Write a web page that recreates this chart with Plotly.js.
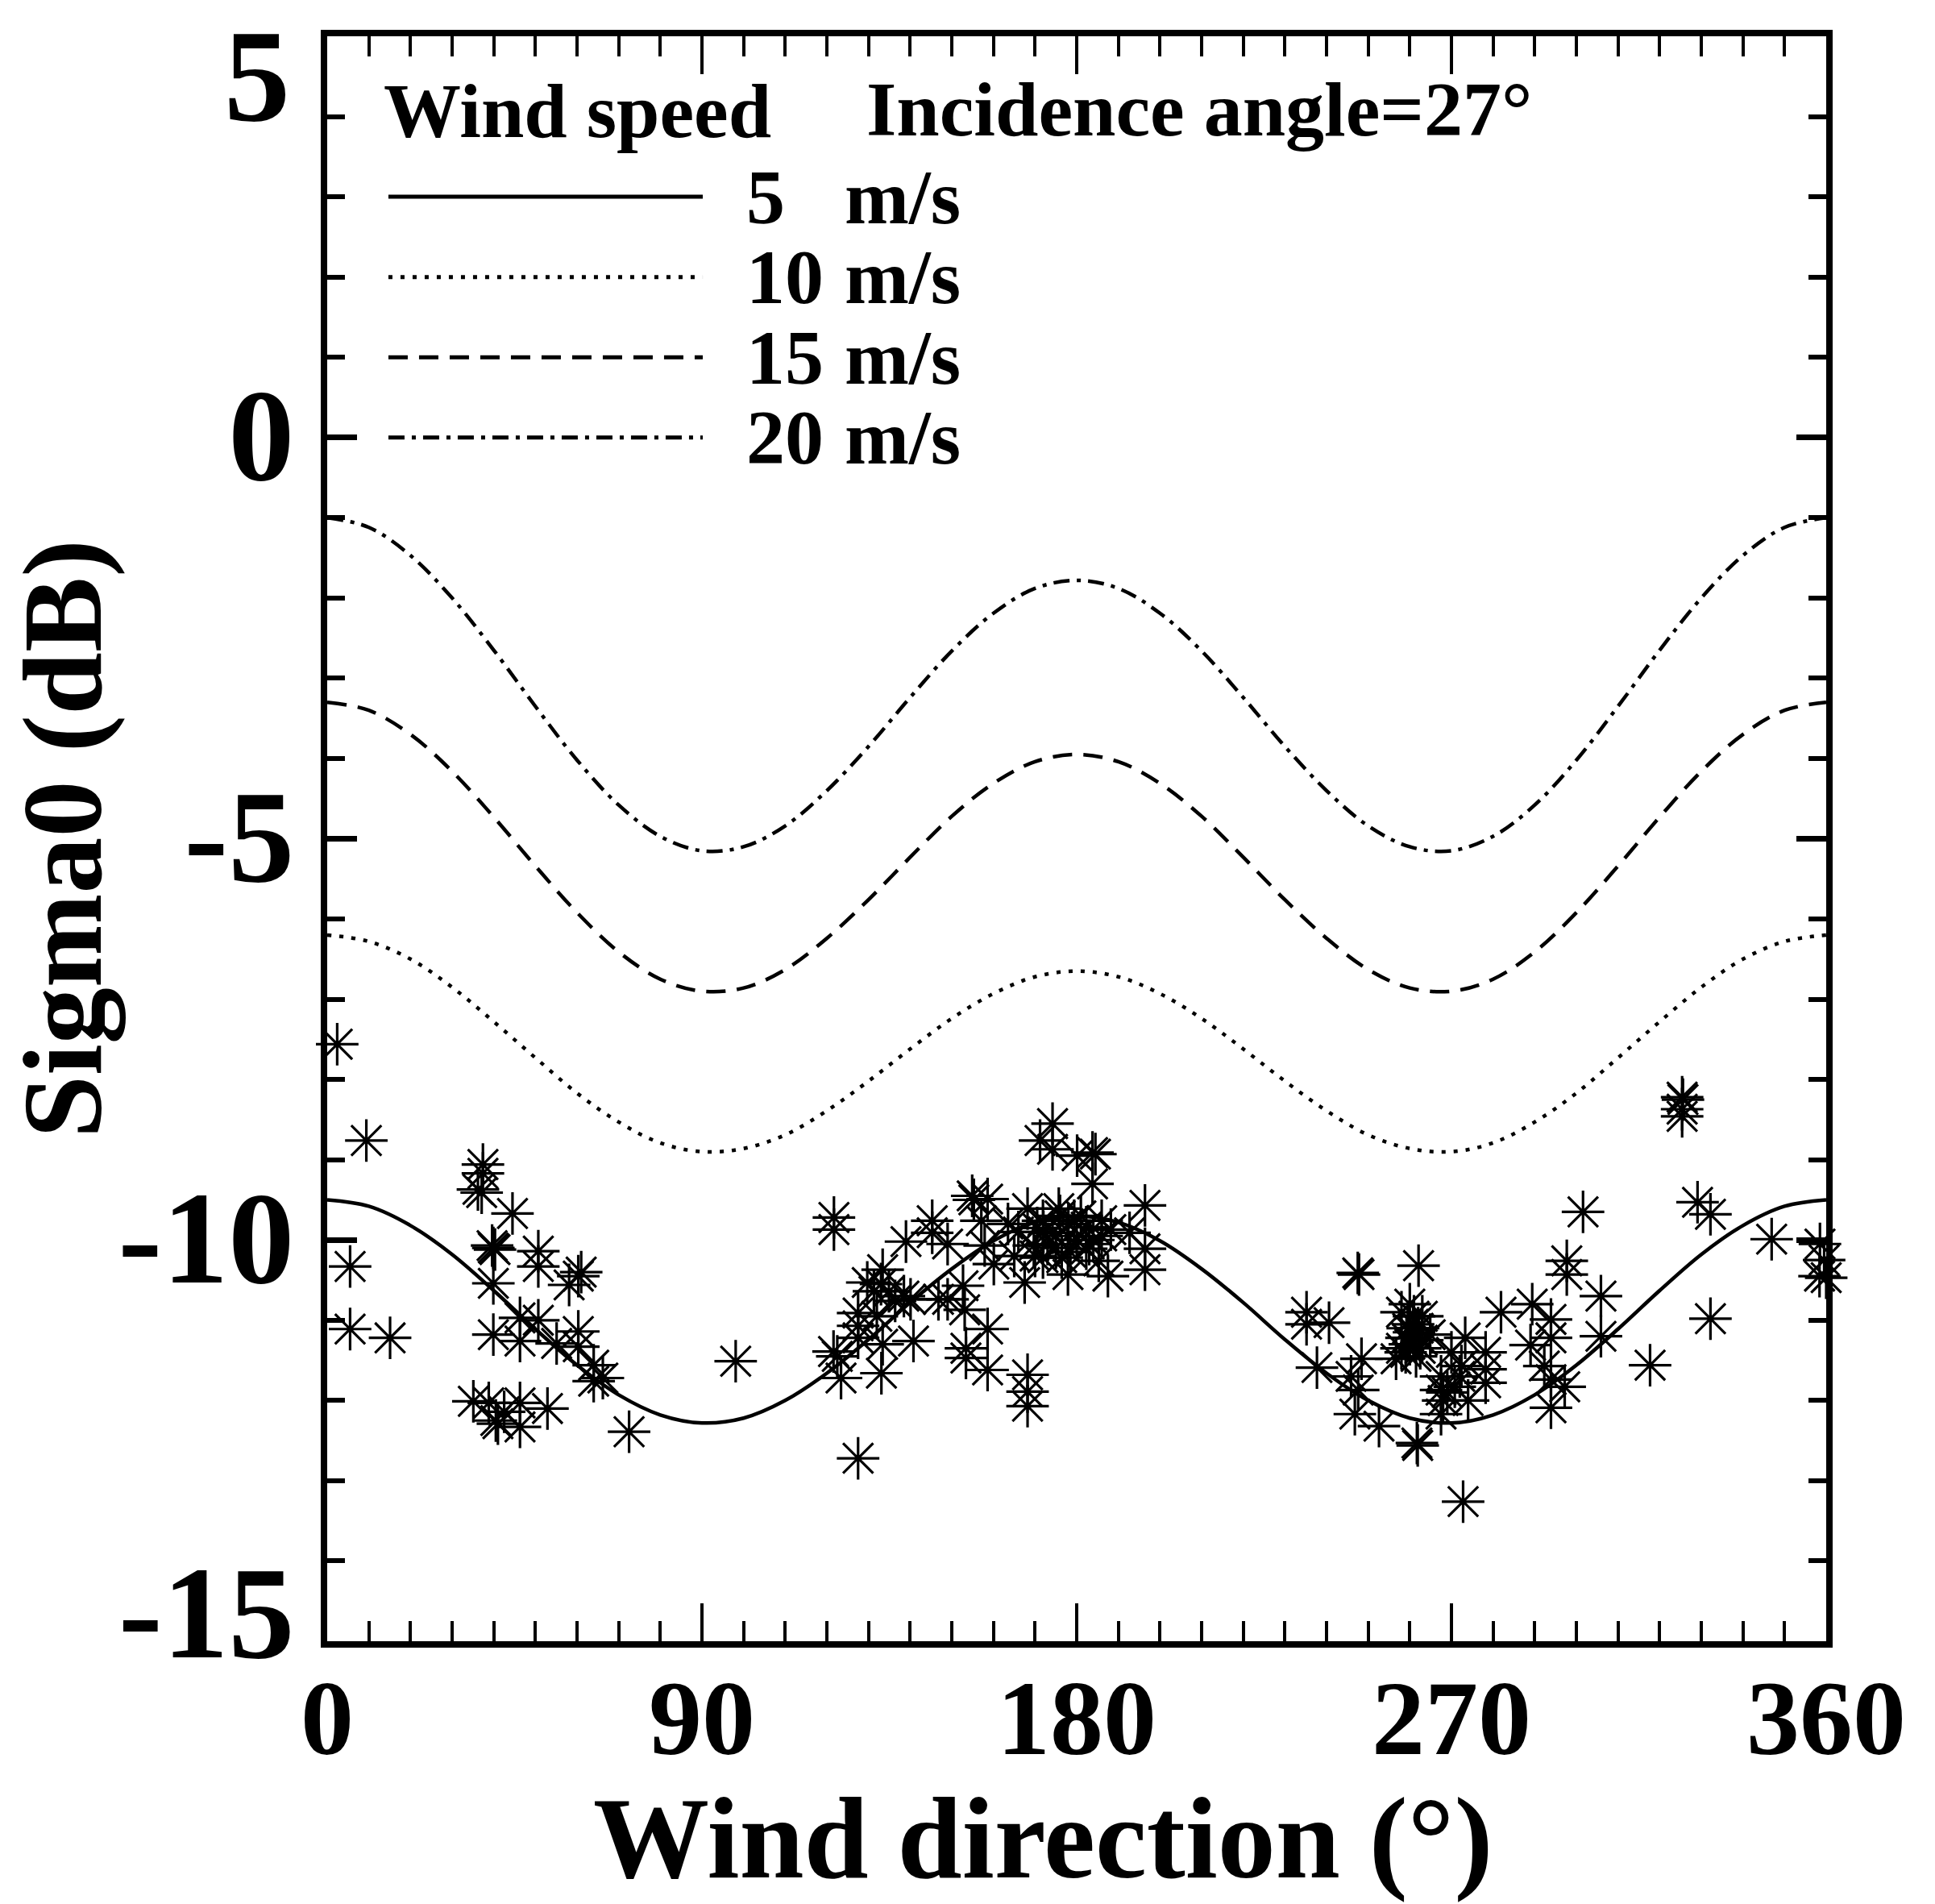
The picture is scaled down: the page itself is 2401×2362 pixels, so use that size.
<!DOCTYPE html>
<html>
<head>
<meta charset="utf-8">
<script src="https://cdn.plot.ly/plotly-3.0.1.min.js"></script>
<style>html,body{margin:0;padding:0;background:#fff;}#chart{width:2401px;height:2362px;}</style>
</head>
<body>
<div id="chart"></div>
<script>
// ---- data ----
var windDir = [0,10,20,30,40,50,60,70,80,90,100,110,120,130,140,150,160,170,180,190,200,210,220,230,240,250,260,270,280,290,300,310,320,330,340,350,360];
var sigma5 = [-9.50,-9.58,-9.82,-10.18,-10.63,-11.11,-11.56,-11.93,-12.18,-12.28,-12.22,-12.00,-11.66,-11.24,-10.78,-10.36,-10.01,-9.78,-9.70,-9.78,-10.01,-10.36,-10.78,-11.24,-11.66,-12.00,-12.22,-12.28,-12.18,-11.93,-11.56,-11.11,-10.63,-10.18,-9.82,-9.58,-9.50];
var sigma10 = [-6.20,-6.28,-6.50,-6.85,-7.28,-7.73,-8.17,-8.53,-8.79,-8.90,-8.86,-8.69,-8.39,-8.02,-7.62,-7.24,-6.93,-6.72,-6.65,-6.72,-6.93,-7.24,-7.62,-8.02,-8.39,-8.69,-8.86,-8.90,-8.79,-8.53,-8.17,-7.73,-7.28,-6.85,-6.50,-6.28,-6.20];
var sigma15 = [-3.30,-3.40,-3.70,-4.16,-4.73,-5.34,-5.92,-6.41,-6.75,-6.90,-6.86,-6.63,-6.24,-5.76,-5.23,-4.72,-4.31,-4.04,-3.95,-4.04,-4.31,-4.72,-5.23,-5.76,-6.24,-6.63,-6.86,-6.90,-6.75,-6.41,-5.92,-5.34,-4.73,-4.16,-3.70,-3.40,-3.30];
var sigma20 = [-1.00,-1.12,-1.47,-2.00,-2.65,-3.35,-4.02,-4.58,-4.97,-5.15,-5.10,-4.84,-4.40,-3.85,-3.24,-2.66,-2.19,-1.88,-1.78,-1.88,-2.19,-2.66,-3.24,-3.85,-4.40,-4.84,-5.10,-5.15,-4.97,-4.58,-4.02,-3.35,-2.65,-2.00,-1.47,-1.12,-1.00];

var obsDir = [
 2.4, 9.4, 5.5, 5.5, 15.1,
 37.4, 37.4, 36.2, 37.1, 44.5, 39.9, 40.3, 39.6, 50.7, 50.7, 60.3, 58.1, 61.0, 39.9,
 46.3, 50.7, 39.9, 46.3, 55.1, 60.3, 60.3, 64.0, 66.2, 64.0,
 35.1, 38.8, 42.5, 46.3, 41.0, 46.3, 52.9, 40.5, 72.5, 98.1,
 121.7, 121.7, 127.5, 121.6, 122.5, 123.4, 127.5, 127.5, 133.4, 134.9, 133.0, 140.1, 138.5,
 133.4, 133.1, 140.8, 139.0, 145.3, 145.3, 149.0, 149.0, 152.7, 153.1, 158.6, 153.4, 153.4,
 158.6, 168.2, 168.2, 168.2, 154.9, 155.3, 158.6, 157.1, 157.9, 160.1,
 129.7, 136.4, 127.5, 132.0, 131.3, 146.8,
 174.2, 171.2, 174.2, 183.8, 180.1, 184.5, 183.8, 196.4,
 168.2, 171.9, 175.7, 179.4, 169.7, 174.2, 177.9, 182.3, 186.0, 188.2,
 167.5, 177.9, 187.5, 196.4, 196.4, 185.3, 182.3, 171.9, 176.4, 192.7,
 170.5, 173.0, 178.5, 181.0, 184.0, 166.0, 163.5, 165.0,
 172.0, 175.0, 178.0, 180.0, 183.0, 186.0, 176.0, 170.0,
 325.4, 325.4, 325.4, 325.6, 301.6, 329.1, 332.2, 346.9, 332.2, 317.7,
 247.5, 247.8, 262.1, 297.7, 297.7, 305.9, 305.9, 281.9, 289.4, 293.9,
 260.0, 260.8, 259.2, 262.5, 256.7, 264.9, 261.0, 259.5, 263.0, 258.0, 261.5,
 258.0, 262.0, 260.0, 263.0, 259.0, 261.0,
 235.2, 235.2, 240.6, 237.7, 245.9, 248.4, 247.6, 246.8, 252.6, 261.7, 261.9, 272.8,
 267.5, 267.5, 267.5, 268.0, 272.4, 270.8, 273.3, 278.2, 278.2, 278.2,
 270.0, 272.0, 269.0, 274.0,
 289.0, 293.9, 292.3, 293.9, 297.2, 293.9,
 358.4, 358.5, 360.0, 359.5
];
var obsSigma = [
 -7.56, -8.76, -10.33, -11.11, -11.22,
 -9.06, -9.17, -9.37, -9.41, -9.67, -10.10, -10.12, -10.07, -10.14, -10.33, -10.45, -10.56, -10.40, -10.54,
 -10.97, -11.00, -11.18, -11.26, -11.29, -11.14, -11.33, -11.56, -11.72, -11.76,
 -12.01, -12.03, -12.14, -12.03, -12.29, -12.33, -12.10, -12.25, -12.39, -11.51,
 -9.72, -9.87, -12.72, -11.39, -11.45, -11.72, -11.07, -11.22, -10.37, -10.64, -10.55, -10.74, -10.70,
 -11.30, -11.66, -11.26, -10.02, -9.76, -9.91, -10.05, -10.74, -10.57, -10.87, -11.11, -11.35, -11.47,
 -11.62, -11.68, -11.89, -12.07, -9.45, -9.50, -9.49, -9.76, -10.07, -10.30,
 -10.53, -10.76, -10.91, -10.95, -10.64, -10.74,
 -8.55, -8.76, -8.87, -8.91, -8.95, -8.93, -9.30, -9.57,
 -9.61, -9.76, -9.61, -9.76, -10.07, -9.91, -9.95, -9.84, -9.76, -9.87,
 -10.53, -10.43, -10.45, -10.11, -10.37, -10.26, -10.11, -10.22, -10.22, -9.91,
 -9.85, -10.05, -10.15, -9.70, -10.00, -9.90, -9.80, -10.20,
 -9.90, -10.10, -9.80, -10.00, -10.05, -9.95, -9.70, -10.20,
 -8.22, -8.37, -8.46, -8.25, -9.65, -9.53, -9.68, -9.99, -10.98, -11.56,
 -10.41, -10.43, -10.32, -10.26, -10.43, -10.70, -11.20, -10.90, -10.80, -10.99,
 -10.80, -11.05, -11.22, -11.35, -11.48, -11.18, -10.95, -11.10, -11.25, -11.35, -11.45,
 -10.90, -11.10, -11.30, -10.95, -11.40, -11.15,
 -10.90, -11.05, -11.03, -11.59, -11.70, -11.48, -11.87, -12.17, -12.32, -12.53, -12.56, -13.26,
 -11.70, -11.87, -12.17, -12.00, -11.57, -11.83, -11.22, -11.40, -11.61, -11.78,
 -11.40, -11.70, -11.90, -12.00,
 -11.31, -11.22, -11.57, -11.74, -11.83, -12.09,
 -10.45, -10.05, -10.47, -10.25
];

var xTickVals = [0, 90, 180, 270, 360];
var xTickText = ['0', '90', '180', '270', '360'];
var yTickVals = [5, 0, -5, -10, -15];
var yTickText = ['5', '0', '-5', '-10', '-15'];

var speedLabels = ['5', '10', '15', '20'];
var unitLabel = 'm/s';
var legendHeader = 'Wind speed';
var angleNote = 'Incidence angle=27\u00b0';
var xTitle = 'Wind direction (\u00b0)';
var yTitle = 'Sigma0 (dB)';

// ---- styles ----
var FONT = 'Liberation Serif, Times New Roman, serif';
var lineDashes = ['solid', '5px,10px', '24px,14px', '20px,9px,5px,9px'];
var curveWidth = 4.5;

var series = [sigma5, sigma10, sigma15, sigma20];
var traces = series.map(function (s, i) {
  return {
    x: windDir, y: s, type: 'scatter', mode: 'lines',
    line: {color: '#000', width: curveWidth, dash: lineDashes[i], shape: 'spline', smoothing: 1},
    showlegend: false, hoverinfo: 'skip'
  };
});
traces.push({
  x: obsDir, y: obsSigma, type: 'scatter', mode: 'markers',
  marker: {symbol: 'asterisk-open', size: 44, color: '#000', line: {color: '#000', width: 3.2}},
  showlegend: false, hoverinfo: 'skip', cliponaxis: false
});

// legend drawn in data space, rows at y = 3,2,1,0
var rowY = [3, 2, 1, 0];
var shapes = rowY.map(function (y, i) {
  return {type: 'line', xref: 'x', yref: 'y', x0: 14.7, x1: 90.2, y0: y, y1: y,
          line: {color: '#000', width: 5, dash: lineDashes[i]}};
});
var annFont = {family: FONT, size: 96, color: '#000', weight: 'bold'};
var tickFontY = {family: FONT, size: 164, color: '#000', weight: 'bold'};
var annotations = [
  {x: 13.2, y: 4.07, xref: 'x', yref: 'y', text: legendHeader, showarrow: false, xanchor: 'left', yanchor: 'middle', font: annFont},
  {x: 129.1, y: 4.09, xref: 'x', yref: 'y', text: angleNote, showarrow: false, xanchor: 'left', yanchor: 'middle', font: annFont}
];
rowY.forEach(function (y, i) {
  annotations.push({x: 100.3, y: y, xref: 'x', yref: 'y', text: speedLabels[i], showarrow: false, xanchor: 'left', yanchor: 'middle', font: annFont});
  annotations.push({x: 123.9, y: y, xref: 'x', yref: 'y', text: unitLabel, showarrow: false, xanchor: 'left', yanchor: 'middle', font: annFont});
});
// end labels of the y axis, pulled inside the frame as in the original
var lastY = yTickVals.length - 1;
annotations.push({x: 0, xref: 'paper', y: yTickVals[0], yref: 'y', text: yTickText[0], showarrow: false,
  xanchor: 'right', yanchor: 'middle', xshift: -44, yshift: -48, font: tickFontY});
annotations.push({x: 0, xref: 'paper', y: yTickVals[lastY], yref: 'y', text: yTickText[lastY], showarrow: false,
  xanchor: 'right', yanchor: 'middle', xshift: -38, yshift: 36, font: tickFontY});
var yAxisText = yTickText.map(function (t, i) { return (i === 0 || i === lastY) ? '' : t; });
// x-axis title (placed slightly left of centre, as in the original)
annotations.push({x: 0.4774, xref: 'paper', y: 0, yref: 'paper', text: xTitle, showarrow: false,
  xanchor: 'center', yanchor: 'top', yshift: -163,
  font: {family: FONT, size: 144, color: '#000', weight: 'bold'}});

var layout = {
  width: 2401, height: 2362,
  margin: {l: 406, r: 135, t: 45, b: 326, pad: 0},
  paper_bgcolor: '#fff', plot_bgcolor: '#fff',
  showlegend: false,
  font: {family: FONT, color: '#000', weight: 'bold'},
  xaxis: {
    range: [0, 360], tickmode: 'array', tickvals: xTickVals, ticktext: xTickText,
    ticks: 'inside', ticklen: 47, tickwidth: 4, tickcolor: '#000',
    showline: true, linewidth: 8, linecolor: '#000', mirror: 'ticks',
    showgrid: false, zeroline: false,
    minor: {tickmode: 'linear', tick0: 0, dtick: 10, ticks: 'inside', ticklen: 25, tickwidth: 4, tickcolor: '#000', showgrid: false},
    tickfont: {family: FONT, size: 132, color: '#000', weight: 'bold'},
    ticklabelstandoff: -26, ticklabeloverflow: 'allow'
  },
  yaxis: {
    range: [-15, 5], tickmode: 'array', tickvals: yTickVals, ticktext: yAxisText,
    ticks: 'inside', ticklen: 37, tickwidth: 7, tickcolor: '#000',
    showline: true, linewidth: 8, linecolor: '#000', mirror: 'ticks',
    showgrid: false, zeroline: false,
    minor: {tickmode: 'linear', tick0: 0, dtick: 1, ticks: 'inside', ticklen: 22, tickwidth: 6, tickcolor: '#000', showgrid: false},
    tickfont: tickFontY,
    ticklabelstandoff: 0, ticklabeloverflow: 'allow', ticklabelshift: -5,
    title: {text: yTitle, font: {family: FONT, size: 140, color: '#000', weight: 'bold'}, standoff: 24}
  },
  shapes: shapes,
  annotations: annotations
};

Plotly.newPlot('chart', traces, layout, {staticPlot: true, displayModeBar: false});
</script>
</body>
</html>
